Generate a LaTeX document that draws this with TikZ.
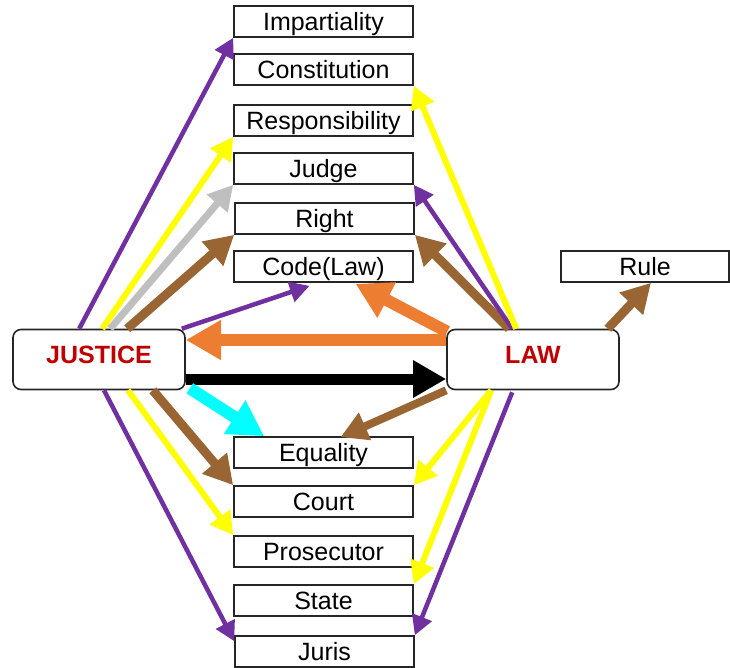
\documentclass[tikz,border=0pt]{standalone}
\usepackage{fontspec}
\setmainfont{Liberation Sans}
\usetikzlibrary{arrows.meta,calc}
\definecolor{lawpurple}{HTML}{7030A0}
\definecolor{lawyellow}{HTML}{FFFF00}
\definecolor{lawgray}{HTML}{BFBFBF}
\definecolor{lawbrown}{HTML}{996633}
\definecolor{laworange}{HTML}{ED7D31}
\definecolor{lawcyan}{HTML}{00FFFF}
\definecolor{lawred}{HTML}{C00000}
\tikzstyle{term}=[draw=black!85,line width=1.6pt,fill=white,inner sep=0pt,minimum width=179pt,minimum height=31pt,text height=18.5pt,text depth=1pt,font=\fontsize{25}{28}\selectfont]
\tikzstyle{hub}=[draw=black!85,line width=1.6pt,fill=white,rounded corners=8pt,inner sep=0pt,minimum width=172pt,minimum height=60pt,text height=18pt,text depth=11pt,text=lawred,font=\fontsize{25}{28}\selectfont\bfseries]
\tikzstyle{link}=[-{Triangle[length=10pt 2.1,width=10pt 2.3]}]
\begin{document}
\begin{tikzpicture}[x=1pt,y=-1pt]
\useasboundingbox (0,0) rectangle (730,668);
\node[term] (impart) at (323.5,21.5) {Impartiality};
\node[term] (const) at (323.5,69.5) {Constitution};
\node[term] (resp) at (323.5,120.5) {Responsibility};
\node[term] (judge) at (323.5,168.5) {Judge};
\node[term] (right) at (324.5,218.5) {Right};
\node[term] (code) at (323.5,266.5) {Code(Law)};
\node[term,minimum width=168pt] (rule) at (645,266.5) {Rule};
\node[term] (equal) at (323.5,452.5) {Equality};
\node[term] (court) at (323.5,501.5) {Court};
\node[term] (prosec) at (323.5,551.5) {Prosecutor};
\node[term] (state) at (323.5,600.5) {State};
\node[term] (juris) at (324.5,651.5) {Juris};
\node[hub] (justice) at (99,359.5) {JUSTICE};
\node[hub] (law) at (533,359.5) {LAW};

\draw[link,lawpurple,line width=4.5pt] ($(justice.north west)+(67,0)$) -- (impart.south west);
\draw[link,lawyellow,line width=6pt] ($(justice.north west)+(90,0)$) -- (resp.south west);
\draw[link,lawgray,line width=7pt] ($(justice.north west)+(98,0)$) -- (judge.south west);
\draw[link,lawbrown,line width=9pt] ($(justice.north west)+(115,0)$) -- (right.south west);
\draw[link,lawpurple,line width=4.5pt] ($(justice.north east)+(-4,0)$) -- ($(code.south)+(-14,3)$);

\draw[link,lawbrown,line width=9pt] ($(law.north west)+(63,0)$) -- (right.south east);
\draw[link,lawpurple,line width=4.5pt] ($(law.north west)+(66,0)$) -- (judge.south east);
\draw[link,lawyellow,line width=6pt] ($(law.north west)+(70,0)$) -- (const.south east);
\draw[link,laworange,line width=12pt] ($(law.north west)+(1,3)$) -- ($(code.south)+(32,1)$);
\draw[link,lawbrown,line width=9pt] ($(law.north east)+(-12,0)$) -- ($(rule.south)+(6,0)$);

\draw[link,laworange,line width=12pt] ($(law.west)+(0,-19.5)$) -- ($(justice.east)+(0,-19.5)$);
\draw[link,black,line width=11pt] ($(justice.east)+(0,19.5)$) -- ($(law.west)+(0,19.5)$);

\draw[link,lawcyan,line width=12pt] ($(justice.south east)+(4,-2)$) -- ($(equal.north west)+(31,0)$);
\draw[link,lawbrown,line width=9pt] ($(justice.south east)+(-33,0)$) -- (court.north west);
\draw[link,lawyellow,line width=6pt] ($(justice.south)+(29,0)$) -- (prosec.north west);
\draw[link,lawpurple,line width=4.5pt] ($(justice.south)+(5,0)$) -- ($(juris.north west)+(0,6)$);

\draw[link,lawbrown,line width=8pt] (law.south west) -- ($(equal.north)+(17,1)$);
\draw[link,lawyellow,line width=6pt] ($(law.south west)+(45,0)$) -- (court.north east);
\draw[link,lawyellow,line width=6pt] ($(law.south west)+(45,0)$) -- (state.north east);
\draw[link,lawpurple,line width=4.5pt] ($(law.south west)+(66,2)$) -- (juris.north east);
\end{tikzpicture}
\end{document}
